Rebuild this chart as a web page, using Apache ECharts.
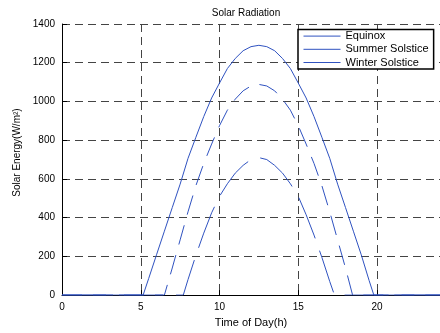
<!DOCTYPE html>
<html>
<head>
<meta charset="utf-8">
<script src="https://cdn.jsdelivr.net/npm/echarts@6/dist/echarts.min.js"></script>
<style>
  html, body { margin: 0; padding: 0; background: #fff; }
  #chart { width: 440px; height: 333px; }
</style>
</head>
<body>
<div id="chart"></div>
<script>
// values (hours, W/m^2)
const equinoxHours = [0, 6.5, 7, 7.5, 8, 8.5, 9, 9.5, 10, 10.5, 11, 11.5, 12, 12.5, 13, 13.5, 14, 14.5, 15, 15.5, 16, 16.5, 17, 17.5, 18, 18.45, 24]
const equinox      = [0, 0, 140, 285, 430, 565, 680, 780, 875, 955, 1012, 1055, 1080, 1088, 1080, 1055, 1012, 955, 875, 780, 680, 565, 430, 285, 140, 0, 0]

const summerHours = [0, 5.15, 5.5, 6, 6.5, 7, 7.5, 8, 8.5, 9, 9.5, 10, 10.5, 11, 11.5, 12, 12.5, 13, 13.5, 14, 14.5, 15, 15.5, 16, 16.5, 17, 17.5, 18, 18.5, 19, 19.5, 19.8, 24]
const summer      = [0, 0, 85, 208, 330, 452, 573, 706, 815, 922, 1018, 1095, 1170, 1222, 1262, 1283, 1290, 1283, 1262, 1222, 1170, 1095, 1018, 922, 815, 706, 573, 452, 330, 208, 75, 0, 0]

const winterHours = [0, 7.7, 8, 8.5, 9, 9.5, 10, 10.5, 11, 11.5, 12, 12.5, 13, 13.5, 14, 14.5, 15, 15.5, 16, 16.5, 17, 17.3, 24]
const winter      = [0, 0, 80, 205, 320, 425, 510, 575, 630, 670, 700, 710, 700, 670, 630, 575, 510, 415, 310, 195, 70, 0, 0]

const seriesNames = ['Equinox', 'Summer Solstice', 'Winter Solstice']
const blue = '#2f52c0'
const font = 'Liberation Sans, Arial, Helvetica, sans-serif'

const pairs = (xs, ys) => xs.map((x, i) => [x, ys[i]])

const chart = echarts.init(document.getElementById('chart'), null, { renderer: 'canvas' })

chart.setOption({
  animation: false,
  backgroundColor: '#fff',
  textStyle: { fontFamily: font },
  title: {
    text: 'Solar Radiation', left: 246, top: 8, textAlign: 'center', padding: 0,
    textStyle: { fontSize: 10, fontWeight: 'normal', color: '#000', fontFamily: font }
  },
  legend: {
    data: seriesNames, orient: 'vertical', left: 298, top: 29.5,
    padding: [1, 5, 1, 5], itemWidth: 37, itemHeight: 14, itemGap: 2,
    backgroundColor: '#fff', borderColor: '#000', borderWidth: 1.5, borderRadius: 0,
    lineStyle: { type: 'solid', width: 1, color: blue },
    itemStyle: { opacity: 0 },
    textStyle: { fontSize: 11, color: '#000', fontFamily: font }
  },
  grid: { left: 62, right: -1, top: 24, bottom: 34, containLabel: false },
  xAxis: {
    type: 'value', min: 0, max: 24, interval: 5,
    name: 'Time of Day(h)', nameLocation: 'middle', nameGap: 19,
    nameTextStyle: { fontSize: 11, color: '#000', fontFamily: font },
    axisLine: { lineStyle: { color: '#000', width: 1 } },
    axisTick: { inside: true, length: 5, lineStyle: { color: '#000' } },
    axisLabel: { fontSize: 10, color: '#000', margin: 7, showMaxLabel: false },
    splitLine: { show: true, lineStyle: { color: '#444', type: [8, 5], width: 1 } }
  },
  yAxis: {
    type: 'value', min: 0, max: 1400, interval: 200,
    name: 'Solar Energy(W/m²)', nameLocation: 'middle', nameGap: 37,
    nameTextStyle: { fontSize: 10, color: '#000', fontFamily: font, padding: [0, 0, 0, 14] },
    axisLine: { show: true, lineStyle: { color: '#000', width: 1 } },
    axisTick: { show: true, inside: true, length: 5, lineStyle: { color: '#000' } },
    axisLabel: { fontSize: 10, color: '#000', margin: 7, formatter: v => String(v) },
    splitLine: { show: true, lineStyle: { color: '#444', type: [8, 5], width: 1 } }
  },
  series: [
    { name: 'Equinox', type: 'line', data: pairs(equinoxHours, equinox), symbol: 'none',
      lineStyle: { color: blue, width: 1, type: [20, 11] }, itemStyle: { color: blue } },
    { name: 'Summer Solstice', type: 'line', data: pairs(summerHours, summer), symbol: 'none',
      lineStyle: { color: blue, width: 1 }, itemStyle: { color: blue } },
    { name: 'Winter Solstice', type: 'line', data: pairs(winterHours, winter), symbol: 'none',
      lineStyle: { color: blue, width: 1, type: [44, 13] }, itemStyle: { color: blue } }
  ]
})
</script>
</body>
</html>
